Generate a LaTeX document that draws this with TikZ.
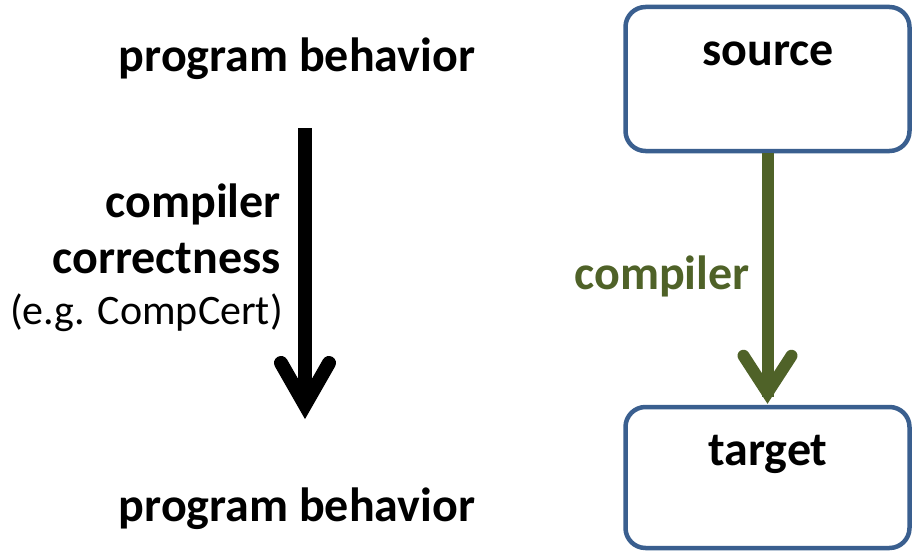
\documentclass[tikz,border=0pt]{standalone}
\usepackage{fontspec}
\setmainfont{Carlito}
\usetikzlibrary{calc}
\definecolor{boxblue}{HTML}{3A5F8F}
\definecolor{olive}{HTML}{4F6228}
\begin{document}
\begin{tikzpicture}[x=1pt,y=-1pt,
  bigtext/.style={font=\fontsize{48}{56}\selectfont\bfseries, inner sep=0pt},
  normtext/.style={font=\fontsize{42}{50}\selectfont, inner sep=0pt},
  stagebox/.style={draw=boxblue, line width=4.5pt, rounded corners=20pt, minimum width=284pt, minimum height=144pt, fill=white},
  shaft/.style={line width=#1},
  headstroke/.style={line width=#1, line cap=round, line join=miter, miter limit=10}]
\useasboundingbox (0,0) rectangle (913,551);
% left column
\node[bigtext] (pb1) at (297,59) {program behavior};
\node[bigtext] (pb2) at (297,509) {program behavior};
\node[bigtext, anchor=east] (cc1) at (281,204) {compiler};
\node[bigtext, anchor=east] (cc2) at (281,259) {correctness};
\node[normtext, anchor=east] (cc3) at (283,313) {(e.g. CompCert)};
\coordinate (btop) at (305,128);
\coordinate (btip) at (305,405);
\draw[shaft=14pt] (btop) -- ($(btip)+(0,-6)$);
\draw[headstroke=14pt] ($(btip)+(-24,-42)$) -- (btip) -- ($(btip)+(24,-42)$);
% right column
\node[stagebox] (src) at (767.5,79) {};
\node[bigtext] at (768,54) {source};
\node[stagebox, minimum height=141pt] (tgt) at (767.5,477.5) {};
\node[bigtext] at (768,454) {target};
\draw[olive, shaft=12pt] (src.south) -- ($(tgt.north)+(0,-8)$);
\draw[olive, headstroke=12pt] ($(tgt.north)+(-24,-49)$) -- ($(tgt.north)+(0,-12)$) -- ($(tgt.north)+(24,-49)$);
\node[bigtext, text=olive] (comp) at (662,276) {compiler};
\end{tikzpicture}
\end{document}
